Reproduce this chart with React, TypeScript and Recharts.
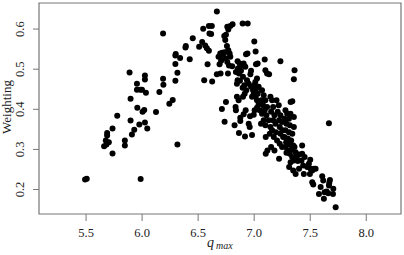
import { ScatterChart, Scatter, XAxis, YAxis, ReferenceArea } from "recharts";

// q_max vs weighting
const leftArm: [number, number][] = [
  [5.491, 0.225], [5.506, 0.227], [5.661, 0.308], [5.676, 0.322], [5.688, 0.341],
  [5.688, 0.335], [5.703, 0.318], [5.682, 0.312], [5.736, 0.352], [5.736, 0.29],
  [5.778, 0.384], [5.846, 0.322], [5.846, 0.31], [5.888, 0.492], [5.897, 0.426],
  [5.897, 0.372], [5.909, 0.337], [5.93, 0.349], [5.954, 0.464], [5.954, 0.449],
  [5.957, 0.404], [5.984, 0.449], [5.999, 0.449], [5.975, 0.362], [6.004, 0.394],
  [6.019, 0.398], [5.987, 0.226], [6.025, 0.484], [6.025, 0.474], [6.034, 0.441],
  [6.025, 0.367], [6.046, 0.352], [6.124, 0.393], [6.154, 0.443], [6.187, 0.589],
  [6.187, 0.476], [6.19, 0.461], [6.243, 0.414], [6.273, 0.423], [6.297, 0.471],
  [6.297, 0.513], [6.297, 0.534], [6.3, 0.538], [6.315, 0.491], [6.315, 0.3125],
  [6.339, 0.528], [6.387, 0.554], [6.39, 0.558],
];

const peak: [number, number][] = [
  [6.425, 0.525], [6.452, 0.577], [6.509, 0.556], [6.536, 0.568], [6.545, 0.601],
  [6.563, 0.559], [6.578, 0.552], [6.596, 0.546], [6.554, 0.4725], [6.584, 0.5125],
  [6.596, 0.6075], [6.622, 0.6075], [6.601, 0.589], [6.616, 0.5875], [6.625, 0.469],
  [6.667, 0.644], [6.667, 0.4875], [6.7, 0.489], [6.682, 0.531], [6.697, 0.539],
  [6.715, 0.541], [6.736, 0.542], [6.691, 0.512], [6.712, 0.401], [6.733, 0.5825],
  [6.748, 0.586], [6.742, 0.573], [6.736, 0.369], [6.76, 0.606], [6.787, 0.6075],
  [6.769, 0.599], [6.748, 0.418], [6.757, 0.558], [6.769, 0.5475], [6.781, 0.539],
  [6.745, 0.527], [6.76, 0.518], [6.787, 0.531], [6.775, 0.509], [6.766, 0.489],
  [6.807, 0.612], [6.804, 0.5075], [6.721, 0.531], [6.705, 0.521],
];

const bandTop: [number, number][] = [
  [6.825, 0.36], [6.837, 0.3975], [6.834, 0.406], [6.846, 0.431], [6.861, 0.4225],
  [6.846, 0.464], [6.852, 0.4725], [6.852, 0.52], [6.87, 0.514], [6.882, 0.509],
  [6.855, 0.502], [6.837, 0.493], [6.864, 0.489], [6.882, 0.496], [6.9, 0.481],
  [6.873, 0.471], [6.897, 0.614], [6.942, 0.614], [6.864, 0.341], [6.876, 0.371],
  [6.876, 0.379], [6.906, 0.3875], [6.918, 0.3325], [6.924, 0.3975], [6.927, 0.5375],
  [6.94, 0.539], [6.906, 0.514], [6.921, 0.506], [6.897, 0.454], [6.912, 0.46],
  [6.93, 0.4475], [6.936, 0.4725], [6.951, 0.464], [6.9, 0.431], [6.915, 0.439],
  [6.951, 0.364], [6.96, 0.356], [6.963, 0.3825], [6.966, 0.4875], [6.972, 0.496],
  [6.981, 0.336], [6.981, 0.431], [6.972, 0.456], [6.99, 0.4475], [6.996, 0.3867],
  [7.004, 0.3975], [7.001, 0.569], [7.013, 0.544], [7.016, 0.5125], [7.025, 0.477],
  [7.01, 0.468], [7.0, 0.46], [7.019, 0.452], [6.996, 0.439], [7.013, 0.431],
  [7.031, 0.439], [7.025, 0.4225], [7.04, 0.4125], [7.025, 0.404], [7.049, 0.3975],
  [7.031, 0.514], [7.04, 0.456],
];

const bandMid: [number, number][] = [
  [7.094, 0.524], [7.1, 0.4975], [7.115, 0.489], [7.133, 0.4875], [7.07, 0.4475],
  [7.085, 0.435], [7.064, 0.4225], [7.1, 0.4225], [7.079, 0.41], [7.115, 0.406],
  [7.094, 0.3975], [7.07, 0.389], [7.109, 0.385], [7.085, 0.3725], [7.13, 0.3725],
  [7.061, 0.364], [7.1, 0.36], [7.145, 0.356], [7.103, 0.331], [7.103, 0.289],
  [7.118, 0.2975], [7.151, 0.306], [7.139, 0.339], [7.145, 0.431], [7.16, 0.4225],
  [7.169, 0.406], [7.151, 0.394], [7.181, 0.385], [7.169, 0.3725], [7.19, 0.364],
  [7.16, 0.3475], [7.194, 0.343], [7.175, 0.331], [7.204, 0.3225], [7.199, 0.4225],
  [7.219, 0.41], [7.21, 0.394], [7.234, 0.385], [7.222, 0.3725], [7.249, 0.3683],
  [7.228, 0.356], [7.252, 0.3475], [7.234, 0.339], [7.258, 0.331], [7.228, 0.314],
  [7.249, 0.306], [7.222, 0.2767], [7.234, 0.52], [7.181, 0.2975],
];

const bandLow: [number, number][] = [
  [7.36, 0.4975], [7.354, 0.475], [7.325, 0.418], [7.34, 0.42], [7.279, 0.3975],
  [7.294, 0.389], [7.27, 0.3767], [7.31, 0.3767], [7.324, 0.389], [7.288, 0.364],
  [7.318, 0.36], [7.354, 0.356], [7.354, 0.381], [7.279, 0.3475], [7.31, 0.343],
  [7.34, 0.339], [7.27, 0.331], [7.3, 0.327], [7.33, 0.3225], [7.285, 0.318],
  [7.315, 0.3125], [7.349, 0.31], [7.279, 0.306], [7.3, 0.2975], [7.33, 0.299],
  [7.36, 0.306], [7.37, 0.293], [7.318, 0.289], [7.339, 0.281], [7.379, 0.281],
  [7.4, 0.2875], [7.354, 0.2725], [7.325, 0.2683], [7.39, 0.271], [7.312, 0.256],
  [7.348, 0.2475], [7.37, 0.239], [7.4, 0.2517], [7.428, 0.31], [7.428, 0.289],
  [7.443, 0.239], [7.422, 0.2725], [7.45, 0.281], [7.437, 0.26], [7.288, 0.2917],
];

const tail: [number, number][] = [
  [7.5, 0.274], [7.488, 0.264], [7.503, 0.2517], [7.518, 0.2475], [7.533, 0.2517],
  [7.548, 0.2517], [7.473, 0.256], [7.497, 0.239], [7.518, 0.218], [7.527, 0.2125],
  [7.578, 0.189], [7.607, 0.233], [7.616, 0.2225], [7.628, 0.193], [7.646, 0.195],
  [7.661, 0.191], [7.622, 0.177], [7.667, 0.21], [7.676, 0.224], [7.67, 0.2167],
  [7.706, 0.2017], [7.703, 0.189], [7.727, 0.156], [7.667, 0.365], [7.593, 0.206],
];

const xTicks = [5.5, 6.0, 6.5, 7.0, 7.5, 8.0];
const yTicks = [0.2, 0.3, 0.4, 0.5, 0.6];

const points = [...leftArm, ...peak, ...bandTop, ...bandMid, ...bandLow, ...tail].map(
  ([q, w]) => ({ q, w })
);

const serif = "Liberation Serif, Times New Roman, Times, serif";

const Dot = (props: any) => <circle cx={props.cx} cy={props.cy} r={3} fill="#000" />;

const XTick = ({ x, payload }: any) => (
  <text x={x} y={237} textAnchor="middle" style={{ fontFamily: serif }} fontSize={12.5} fill="#222">
    {payload.value.toFixed(1)}
  </text>
);

const YTick = ({ y, payload }: any) => (
  <text
    x={24.5}
    y={y}
    transform={`rotate(-90 24.5 ${y})`}
    textAnchor="middle"
    style={{ fontFamily: serif }}
    fontSize={12.5}
    fill="#222"
  >
    {payload.value.toFixed(1)}
  </text>
);

export default function App() {
  return (
    <div style={{ position: "absolute", left: 0, top: 0, fontFamily: serif }}>
      <ScatterChart width={404} height={255} margin={{ top: 3, right: 3, bottom: 0, left: 0 }}>
        <XAxis
          type="number"
          dataKey="q"
          domain={[5.08, 8.31]}
          ticks={xTicks}
          allowDataOverflow
          height={41}
          axisLine={false}
          tickLine={{ stroke: "#777" }}
          tickSize={7}
          tick={<XTick />}
          label={{
            content: () => (
              <text x={207} y={247} style={{ fontFamily: serif }} fill="#222" fontStyle="italic">
                <tspan fontSize={14}>q</tspan>
                <tspan fontSize={10} dx={2} dy={2}>max</tspan>
              </text>
            ),
          }}
        />
        <YAxis
          type="number"
          dataKey="w"
          domain={[0.139, 0.665]}
          ticks={yTicks}
          allowDataOverflow
          width={39}
          axisLine={false}
          tickLine={{ stroke: "#777" }}
          tickSize={6}
          tick={<YTick />}
          label={{
            content: () => (
              <text
                x={11}
                y={107}
                transform="rotate(-90 11 107)"
                textAnchor="middle"
                style={{ fontFamily: serif }}
                fontSize={13}
                fill="#222"
              >
                Weighting
              </text>
            ),
          }}
        />
        <ReferenceArea
          x1={5.08}
          x2={8.31}
          y1={0.139}
          y2={0.665}
          fill="none"
          stroke="#777"
          strokeWidth={1.2}
          ifOverflow="visible"
        />
        <Scatter data={points} shape={<Dot />} isAnimationActive={false} />
      </ScatterChart>
    </div>
  );
}
